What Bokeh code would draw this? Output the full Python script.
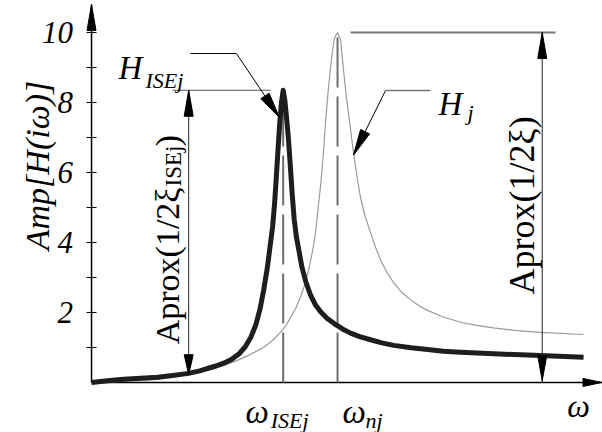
import numpy as np
from bokeh.plotting import figure
from bokeh.models import Range1d, Label
from bokeh.core.properties import value
from bokeh.embed import file_html
from bokeh.resources import INLINE

# ---------------- data ----------------
# frequency axis normalised so that omega_nj = 1
omega_ise = 0.779          # omega_ISEj (peak of H_ISEj)
omega_n = 1.0              # omega_nj (peak of H_j)
peak_ise = 8.35
peak_n = 10.0

omega_ise_curve = [0.000, 0.065, 0.130, 0.200, 0.268, 0.330, 0.394, 0.440, 0.472, 0.505,
                   0.537, 0.570, 0.600, 0.625, 0.648, 0.668, 0.685, 0.700, 0.714, 0.726,
                   0.736, 0.744, 0.751, 0.758, 0.765, 0.772, 0.779, 0.786, 0.793, 0.800,
                   0.808, 0.816, 0.824, 0.833, 0.843, 0.855, 0.870, 0.890, 0.910, 0.931,
                   0.958, 0.985, 1.020, 1.053, 1.090, 1.134, 1.180, 1.228, 1.300, 1.366,
                   1.430, 1.500, 1.634, 1.825, 2.000]
amp_ise_curve = [0.00, 0.05, 0.09, 0.12, 0.15, 0.20, 0.26, 0.33, 0.40, 0.47,
                 0.55, 0.66, 0.82, 1.02, 1.30, 1.65, 2.10, 2.65, 3.25, 3.90,
                 4.45, 5.10, 5.85, 6.65, 7.40, 8.00, 8.35, 8.05, 7.55, 7.00,
                 6.20, 5.35, 4.65, 4.15, 3.77, 3.30, 2.90, 2.50, 2.22, 2.02,
                 1.83, 1.69, 1.53, 1.41, 1.31, 1.22, 1.13, 1.06, 0.99, 0.94,
                 0.89, 0.86, 0.82, 0.77, 0.72]

omega_nat_curve = [0.000, 0.130, 0.268, 0.340, 0.402, 0.472, 0.537, 0.593, 0.640, 0.675,
                   0.699, 0.735, 0.768, 0.790, 0.809, 0.830, 0.850, 0.867, 0.882, 0.897,
                   0.911, 0.923, 0.933, 0.943, 0.952, 0.961, 0.970, 0.979, 0.988, 1.000,
                   1.012, 1.024, 1.036, 1.049, 1.065, 1.080, 1.093, 1.112, 1.134, 1.155,
                   1.175, 1.200, 1.228, 1.260, 1.297, 1.330, 1.366, 1.430, 1.500, 1.565,
                   1.634, 1.730, 1.825, 2.000]
amp_nat_curve = [0.00, 0.03, 0.09, 0.17, 0.25, 0.34, 0.48, 0.63, 0.78, 0.91,
                 1.00, 1.20, 1.43, 1.62, 1.86, 2.12, 2.45, 2.80, 3.20, 3.70,
                 4.30, 5.10, 5.75, 6.60, 7.50, 8.25, 8.90, 9.45, 9.85, 10.00,
                 9.80, 8.95, 8.15, 7.45, 6.55, 5.85, 5.30, 4.75, 4.29, 3.85,
                 3.50, 3.15, 2.85, 2.58, 2.36, 2.20, 2.06, 1.87, 1.72, 1.63,
                 1.56, 1.48, 1.43, 1.37]

y_major_ticks = [2, 4, 6, 8, 10]
y_tick_labels = ["2", "4", "6", "8", "10"]
y_minor_ticks = [1, 3, 5, 7, 9]

# ---------------- figure ----------------
W, H = 602, 432
X0, X1 = -0.37, 2.077
Y0, Y1 = -1.43, 10.915
SX = W / (X1 - X0)
SY = H / (Y1 - Y0)

p = figure(width=W, height=H, x_range=Range1d(X0, X1), y_range=Range1d(Y0, Y1),
           output_backend="svg", toolbar_location=None,
           x_axis_location=None, y_axis_location=None, min_border=0)
p.grid.visible = False
p.outline_line_color = None
p.background_fill_color = "white"
p.border_fill_color = "white"

FONT = "Liberation Serif"


def head(tx, ty, ux, uy, L=25, Wd=9):
    n = (ux * ux + uy * uy) ** 0.5
    ux, uy = ux / n, uy / n
    bx, by = -ux * L, -uy * L
    px_, py_ = -uy * Wd / 2, ux * Wd / 2
    xs = [tx, tx + (bx + px_) / SX, tx + (bx - px_) / SX]
    ys = [ty, ty + (by + py_) / SY, ty + (by - py_) / SY]
    return xs, ys


heads = []

# axes
y_top = 10.8
x_end = 2.075
p.segment(x0=[0, 0], y0=[0, 0], x1=[0, x_end], y1=[y_top, 0], line_color="black", line_width=1.5)
heads.append(head(0, y_top, 0, 1, 26, 9))
heads.append(head(x_end, 0, 1, 0, 19, 8))

all_ticks = sorted(y_major_ticks + y_minor_ticks)
p.segment(x0=[-5 / SX] * len(all_ticks), y0=all_ticks, x1=[5 / SX] * len(all_ticks), y1=all_ticks,
          line_color="black", line_width=1)
p.text(x=[-18.5 / SX] * len(y_major_ticks), y=y_major_ticks, text=y_tick_labels,
       text_font=value(FONT), text_font_style="italic", text_font_size="31px",
       text_align="right", text_baseline="middle", text_color="black")

# dashed verticals
p.segment(x0=[omega_ise, omega_n], y0=[0, 0], x1=[omega_ise, omega_n], y1=[peak_ise, peak_n],
          line_color="#6e6e6e", line_width=2, line_dash="50 9")

# curves
p.line(omega_nat_curve, amp_nat_curve, line_color="#9a9a9a", line_width=1.2)
p.line(omega_ise_curve, amp_ise_curve, line_color="#1e1e1e", line_width=5, line_join="round")

# reference horizontal lines
p.segment(x0=[0.33], y0=[peak_ise], x1=[0.728], y1=[peak_ise], line_color="#555555", line_width=1.2)
p.segment(x0=[1.053], y0=[peak_n], x1=[1.886], y1=[peak_n], line_color="#777777", line_width=2)

# Aprox arrows
xa_l = 0.395
ya_l = float(np.interp(xa_l, omega_ise_curve, amp_ise_curve))
p.segment(x0=[xa_l], y0=[ya_l], x1=[xa_l], y1=[peak_ise], line_color="#222222", line_width=1)
heads.append(head(xa_l, peak_ise, 0, 1, 26, 9))
heads.append(head(xa_l, ya_l - 0.04, 0, -1, 20, 9))

xa_r = 1.832
p.segment(x0=[xa_r], y0=[0], x1=[xa_r], y1=[peak_n], line_color="#222222", line_width=1)
heads.append(head(xa_r, peak_n, 0, 1, 26, 9))
heads.append(head(xa_r, 0.05, 0, -1, 25, 9))

# leaders
lx0, ly0, lx1, ly1 = 0.402, 9.4, 0.589, 9.4
tipx, tipy = 0.764, 7.57
p.line([lx0, lx1, tipx], [ly0, ly1, tipy], line_color="black", line_width=1)
heads.append(head(tipx, tipy, (tipx - lx1) * SX, (tipy - ly1) * SY, 26, 10))

gx0, gy0, gx1 = 1.378, 8.34, 1.195
gtx, gty = 1.065, 6.5
p.line([gx0, gx1], [gy0, gy0], line_color="#777777", line_width=1.5)
p.line([gx1, gtx], [gy0, gty], line_color="black", line_width=1)
heads.append(head(gtx, gty, (gtx - gx1) * SX, (gty - gy0) * SY, 26, 10))

p.patches([h[0] for h in heads], [h[1] for h in heads], fill_color="black", line_color="black", line_width=1)


def lab(x, y, t, size, style="normal", angle=0.0, align="left", baseline="alphabetic"):
    p.add_layout(Label(x=x, y=y, text=t, text_font=FONT, text_font_size=f"{size}px",
                       text_font_style=style, angle=angle, text_align=align,
                       text_baseline=baseline, text_color="black"))


# y-axis title
lab(-0.2195, 6.2, "Amp[H(iω)]", 34, "italic", np.pi / 2, "center")

# H_ISEj label
lab(0.11, 9.0, "H", 33, "italic")
lab(0.2195, 8.63, "ISEj", 22, "italic")
# H_j label
lab(1.41, 7.97, "H", 33, "italic")
lab(1.528, 7.71, "j", 22, "italic")

# omega labels
lab(0.626, -0.857, "ω", 33, "italic")
lab(0.728, -1.086, "ISEj", 22, "italic")
lab(1.02, -0.857, "ω", 33, "italic")
lab(1.114, -1.086, "nj", 22, "italic")
# axis name at the end of the frequency axis
p.text(x=[1.98], y=[-0.68], text=["ω"], text_font=value(FONT), text_font_style="italic",
       text_font_size="32px", text_align="center", text_baseline="middle", text_color="black")

# Aprox labels
lab(1.748, 5.06, "Aprox(1/2ξ)", 36, "normal", np.pi / 2, "center")
lab(0.309, 1.09, "Aprox(1/2ξ", 34, "normal", np.pi / 2, "left")
lab(0.333, 5.6, "ISEj", 23, "normal", np.pi / 2, "left")
lab(0.309, 6.75, ")", 34, "normal", np.pi / 2, "left")

open("out.html", "w").write(file_html(p, INLINE))
